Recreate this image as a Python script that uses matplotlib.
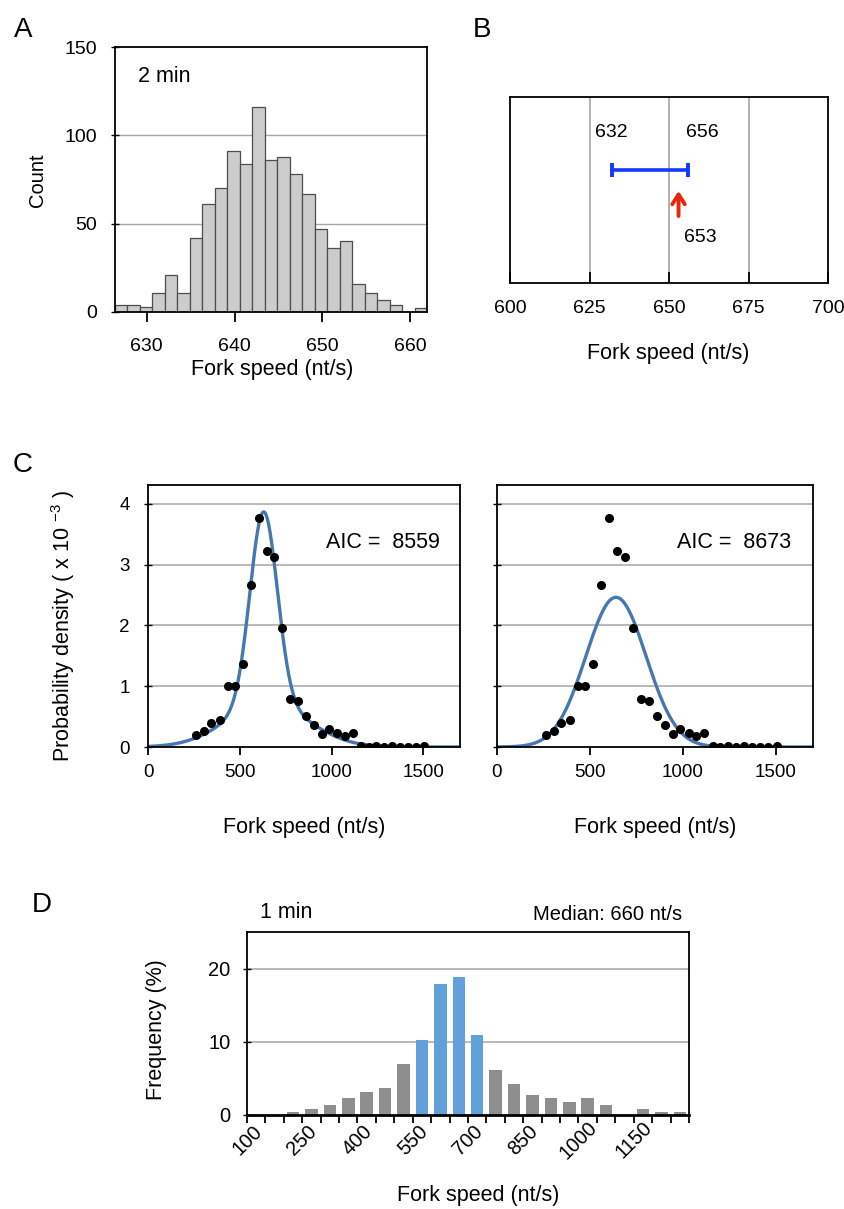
import numpy as np
import matplotlib
matplotlib.use("Agg")
import matplotlib.pyplot as plt

plt.rcParams['font.family'] = ['Liberation Sans', 'DejaVu Sans']
plt.rcParams['mathtext.fontset'] = 'custom'
plt.rcParams['mathtext.rm'] = 'Liberation Sans'

# ---- panel A : 2 min histogram of fork speed
a_range = (626.4, 661.9)
a_counts = [4, 4, 3, 11, 21, 11, 42, 61, 70, 91, 84, 116, 86, 88,
            78, 67, 47, 36, 40, 16, 11, 7, 4, 0, 2]

# ---- panel B : interval and estimate
b_low, b_high = 632, 656
b_est = 653

# ---- panel C : probability density (x 1e-3)
c_x = [262, 304, 345, 391, 435, 476, 518, 562, 604, 647, 689, 731, 775, 818, 862,
       904, 947, 987, 1031, 1073, 1116, 1160, 1202, 1245, 1287, 1331, 1373, 1415, 1458, 1504]
c_y = [0.19, 0.26, 0.40, 0.45, 1.01, 1.01, 1.37, 2.66, 3.77, 3.23, 3.13, 1.96, 0.79, 0.76, 0.51,
       0.36, 0.22, 0.29, 0.23, 0.18, 0.23, 0.01, 0.0, 0.02, 0.0, 0.02, 0.0, 0.0, 0.0, 0.02]
# fitted models: mixture of two normals (left), single normal (right)
mix_mu = [630, 650]
mix_sd = [74, 221]
mix_amp = [3.16, 0.71]
norm_mu, norm_sd = 640, 162
aic = [8559, 8673]

# ---- panel D : 1 min frequency
d_edges = list(range(100, 1300, 50))
d_freq = [0, 0, 0.4, 0.83, 1.38, 2.3, 3.2, 3.7, 7.0, 10.3, 17.9, 18.9, 10.9, 6.1, 4.2,
          2.7, 2.3, 1.8, 2.3, 1.3, 0, 0.83, 0.41, 0.41]
d_hilite = (550, 750)
d_ticklabels = ['100', '250', '400', '550', '700', '850', '1000', '1150']

W, H = 845, 1209
fig = plt.figure(figsize=(W / 100, H / 100), dpi=100)

def add_ax(l, t, r, b):
    return fig.add_axes([l / W, 1 - b / H, (r - l) / W, (b - t) / H])

def ftext(x, y, s, **kw):
    fig.text(x / W, 1 - y / H, s, **kw)

grid_c = '#a6a6a6'
fs_tick = 14
fs_lab = 15.5

# ---------------- A
ax = add_ax(115, 47, 427, 312)
edges = np.linspace(a_range[0], a_range[1], len(a_counts) + 1)
ax.bar(edges[:-1], a_counts, width=np.diff(edges), align='edge',
       color='#cccccc', edgecolor='#4d4d4d', linewidth=0.9, zorder=2)
ax.set_xlim(a_range)
ax.set_ylim(0, 150)
ax.set_yticks([0, 50, 100, 150])
ax.set_xticks([630, 640, 650, 660])
for v in [50, 100]:
    ax.axhline(v, color=grid_c, lw=1, zorder=1)
ax.tick_params(axis='x', direction='out', length=7, width=1.3, pad=12, labelsize=fs_tick)
ax.tick_params(axis='y', direction='inout', length=6, width=1, pad=10, labelsize=fs_tick)
for s in ax.spines.values():
    s.set_linewidth(1.3)
ax.text(0.075, 0.89, '2 min', transform=ax.transAxes, fontsize=fs_lab, va='center')
ftext(38, 180, 'Count', rotation=90, fontsize=fs_lab - 1, ha='center', va='center')
ftext(272, 370, 'Fork speed (nt/s)', fontsize=fs_lab, ha='center', va='center')

# ---------------- B
ax = add_ax(510, 97, 828, 283)
ax.set_xlim(600, 700)
ax.set_ylim(0, 1)
ax.set_xticks([600, 625, 650, 675, 700])
ax.set_yticks([])
for v in [625, 650, 675]:
    ax.axvline(v, color=grid_c, lw=1.2, zorder=1)
ax.tick_params(axis='x', direction='in', length=8, width=1.3, pad=12, labelsize=fs_tick)
for s in ax.spines.values():
    s.set_linewidth(1.3)
ax.errorbar([(b_low + b_high) / 2], [0.61], xerr=[[(b_high - b_low) / 2], [(b_high - b_low) / 2]],
            fmt='none', ecolor='#1438ff', elinewidth=2.6, capsize=5, capthick=2.8, zorder=3)
ax.annotate('', xy=(b_est, 0.51), xytext=(b_est, 0.345),
            arrowprops=dict(arrowstyle='->,head_length=0.7,head_width=0.45',
                            color='#e8260c', lw=2.8), zorder=3)
ax.text(b_low, 0.81, str(b_low), ha='center', va='center', fontsize=fs_tick)
ax.text(b_high + 4.5, 0.81, str(b_high), ha='center', va='center', fontsize=fs_tick)
ax.text(b_est + 7, 0.245, str(b_est), ha='center', va='center', fontsize=fs_tick)
ftext(668, 353, 'Fork speed (nt/s)', fontsize=fs_lab, ha='center', va='center')

# ---------------- C
xs = np.linspace(0, 1700, 600)
fit_left = sum(a * np.exp(-(xs - m) ** 2 / (2 * s ** 2)) for a, m, s in zip(mix_amp, mix_mu, mix_sd))
fit_right = 1000 / (norm_sd * np.sqrt(2 * np.pi)) * np.exp(-(xs - norm_mu) ** 2 / (2 * norm_sd ** 2))

for i, (l, r, fit) in enumerate([(148, 460, fit_left), (497, 813, fit_right)]):
    ax = add_ax(l, 485, r, 747)
    ax.set_xlim(0, 1700)
    ax.set_ylim(0, 4.31)
    ax.set_xticks([0, 500, 1000, 1500])
    ax.set_yticks([0, 1, 2, 3, 4])
    for v in [1, 2, 3, 4]:
        ax.axhline(v, color=grid_c, lw=1.1, zorder=1)
    ax.plot(xs, fit, color='#4677b0', lw=2.4, zorder=2)
    ax.plot(c_x, c_y, 'o', color='black', ms=5.5, zorder=3)
    ax.tick_params(axis='x', direction='out', length=6, width=1.3, pad=6, labelsize=13.5)
    ax.tick_params(axis='y', direction='inout', length=6, width=1, pad=10, labelsize=13.5)
    if i == 1:
        ax.set_yticklabels([])
    for s in ax.spines.values():
        s.set_linewidth(1.3)
    ax.text(0.57, 0.78, 'AIC =  %d' % aic[i], transform=ax.transAxes, fontsize=fs_lab, va='center')
    ftext((l + r) / 2, 828, 'Fork speed (nt/s)', fontsize=fs_lab, ha='center', va='center')
ftext(63, 626, 'Probability density ( x 10 $^{-3}$ )', rotation=90, fontsize=fs_lab,
      ha='center', va='center')

# ---------------- D
ax = add_ax(247, 932, 689, 1115)
centers = np.array(d_edges) + 25
colors = ['#62a0dc' if d_hilite[0] <= e < d_hilite[1] else '#8e8e8e' for e in d_edges]
ax.bar(centers, d_freq, width=34, color=colors, zorder=2)
ax.set_xlim(100, 1300)
ax.set_ylim(0, 25)
ax.set_yticks([0, 10, 20])
for v in [10, 20]:
    ax.axhline(v, color=grid_c, lw=1.1, zorder=1)
ticks = list(range(100, 1301, 50))
ax.set_xticks(ticks)
ax.set_xticklabels([str(t) if str(t) in d_ticklabels else '' for t in ticks],
                   rotation=45, ha='center', va='center', rotation_mode='anchor')
ax.tick_params(axis='x', direction='out', length=6, width=1.3, pad=12, labelsize=fs_tick + 0.5)
ax.tick_params(axis='y', direction='inout', length=6, width=1, pad=9, labelsize=fs_tick + 0.5)
for s in ax.spines.values():
    s.set_linewidth(1.3)
ax.spines['bottom'].set_linewidth(2)
ftext(286, 913, '1 min', fontsize=fs_lab, ha='center', va='center')
ftext(682, 915, 'Median: 660 nt/s', fontsize=fs_tick + 0.5, ha='right', va='center')
ftext(157, 1030, 'Frequency (%)', rotation=90, fontsize=fs_lab, ha='center', va='center')
ftext(478, 1196, 'Fork speed (nt/s)', fontsize=fs_lab, ha='center', va='center')

# panel letters
for lab, x, y in [('A', 23, 30), ('B', 482, 30), ('C', 23, 465), ('D', 42, 905)]:
    ftext(x, y, lab, fontsize=20, ha='center', va='center')

fig.savefig('out.png', dpi=100)
